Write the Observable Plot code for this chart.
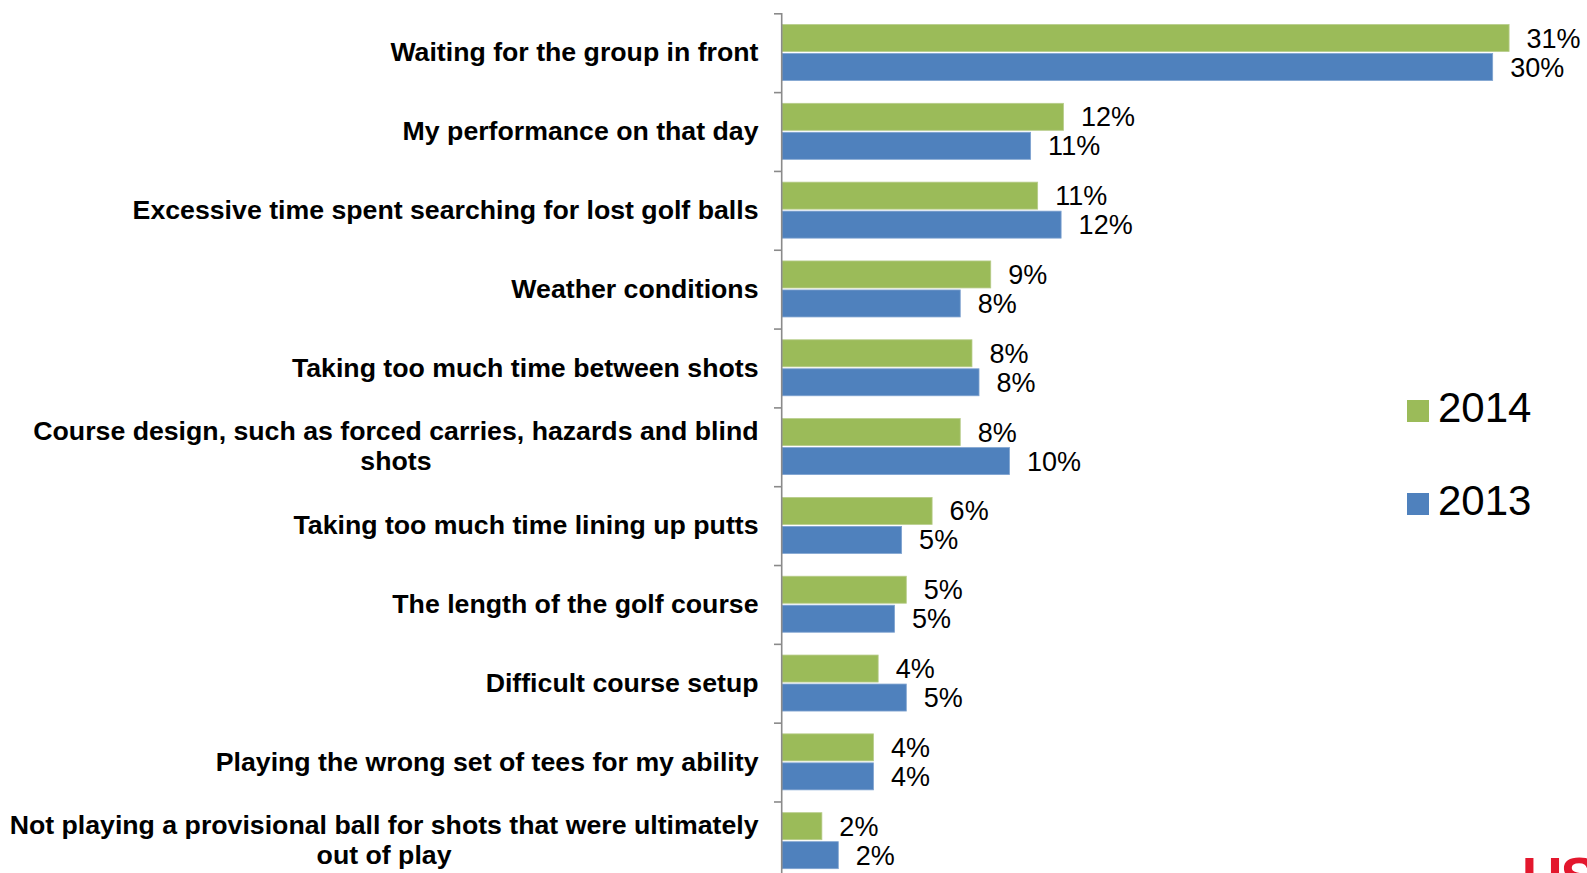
<!DOCTYPE html>
<html>
<head>
<meta charset="utf-8">
<script src="https://cdn.jsdelivr.net/npm/d3@7"></script>
<script src="https://cdn.jsdelivr.net/npm/@observablehq/plot@0.6"></script>
<style>
  html, body { margin: 0; padding: 0; background: #fff; overflow: hidden; }
  body { width: 1587px; height: 873px; position: relative; font-family: "Liberation Sans", Arial, sans-serif; }
  #chart { position: absolute; left: 0; top: 0; }
  .legend { position: absolute; left: 1407px; font-size: 42px; color: #000; line-height: 1; white-space: nowrap; }
  .legend .sw { display: inline-block; width: 22px; height: 22px; margin-right: 9px; vertical-align: baseline; }
  .logo { position: absolute; left: 1522px; top: 849px; font-size: 56px; font-weight: bold; color: #e3172d; line-height: 1; letter-spacing: -2px; }
</style>
</head>
<body>
<div id="chart"></div>
<div class="legend" style="top:387px"><span class="sw" style="background:#9BBB59"></span>2014</div>
<div class="legend" style="top:480px"><span class="sw" style="background:#4F81BD"></span>2013</div>
<div class="logo">US</div>
<script>
const categories = [
  "Waiting for the group in front",
  "My performance on that day",
  "Excessive time spent searching for lost golf balls",
  "Weather conditions",
  "Taking too much time between shots",
  "Course design, such as forced carries, hazards and blind\nshots",
  "Taking too much time lining up putts",
  "The length of the golf course",
  "Difficult course setup",
  "Playing the wrong set of tees for my ability",
  "Not playing a provisional ball for shots that were ultimately\nout of play"
];
const years = ["2014", "2013"];
const colors = ["#9BBB59", "#4F81BD"];
const v2014 = [31.0, 12.0, 10.9, 8.9, 8.1, 7.6, 6.4, 5.3, 4.1, 3.9, 1.7];
const v2013 = [30.3, 10.6, 11.9, 7.6, 8.4, 9.7, 5.1, 4.8, 5.3, 3.9, 2.4];

const d14 = categories.map((c, i) => ({category: c, year: years[0], value: v2014[i]}));
const d13 = categories.map((c, i) => ({category: c, year: years[1], value: v2013[i]}));

const W = 1587, H = 880, mL = 782, mT = 13, mR = 31;
const xMax = 33;
const band = (H - mT) / categories.length;
const pxPerUnit = (W - mL - mR) / xMax;

const labelSize = 26.7;
const labelFont = `bold ${labelSize}px 'Liberation Sans', Arial, sans-serif`;
const ctx = document.createElement("canvas").getContext("2d");
ctx.font = labelFont;
const widest = s => Math.max(...s.split("\n").map(l => ctx.measureText(l).width));

const single = categories.filter(c => !c.includes("\n"));
const multi = categories.filter(c => c.includes("\n"));
const labelStyle = {fontWeight: "bold", fontSize: labelSize, fill: "#000", fontFamily: "'Liberation Sans', Arial, sans-serif"};

const marks = [
  Plot.barX(d14, {x: "value", y: "category", fill: colors[0], stroke: "#b7cc8a", strokeWidth: 0.8, insetTop: 11.5, insetBottom: band - 38.5}),
  Plot.barX(d13, {x: "value", y: "category", fill: colors[1], stroke: "#7fa3d0", strokeWidth: 0.8, insetTop: 40.5, insetBottom: band - 67.5}),
  Plot.text(d14, {x: "value", y: "category", text: d => Math.round(d.value) + "%", dx: 17, dy: -14, textAnchor: "start", fontSize: 27, fill: "#000"}),
  Plot.text(d13, {x: "value", y: "category", text: d => Math.round(d.value) + "%", dx: 17, dy: 15, textAnchor: "start", fontSize: 27, fill: "#000"}),
  Plot.ruleX([0], {stroke: "#8a8a8a", strokeWidth: 1.6, dx: -0.8}),
  Plot.barX(categories, {y: d => d, x1: -8 / pxPerUnit, x2: 0, fill: "#8a8a8a", insetBottom: band - 1.6}),
  Plot.text(single, {y: d => d, text: d => d, frameAnchor: "left", dx: -24, textAnchor: "end", ...labelStyle}),
  ...multi.map(c => Plot.text([c], {y: d => d, text: d => d, frameAnchor: "left", dx: -24 - widest(c) / 2, dy: -2, textAnchor: "middle", lineHeight: 1.14, ...labelStyle}))
];

const chart = Plot.plot({
  width: W,
  height: H,
  marginLeft: mL,
  marginRight: mR,
  marginTop: mT,
  marginBottom: 0,
  x: {domain: [0, xMax], axis: null},
  y: {domain: categories, padding: 0, round: false, axis: null},
  style: {fontFamily: "'Liberation Sans', Arial, sans-serif", background: "transparent", overflow: "visible"},
  marks
});
document.getElementById("chart").appendChild(chart);
</script>
</body>
</html>
